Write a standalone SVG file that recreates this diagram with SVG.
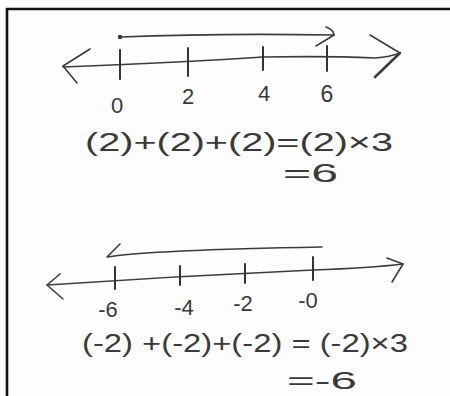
<svg xmlns="http://www.w3.org/2000/svg" width="450" height="396" viewBox="0 0 450 396">
<style>
.ink{fill:none;stroke:#3c3c3c;stroke-width:1.6;stroke-linecap:round;stroke-linejoin:round}
.tick{fill:none;stroke:#333;stroke-width:2;stroke-linecap:round}
.t{font-family:"Liberation Sans","DejaVu Sans",sans-serif;fill:#3a3a3a;font-weight:normal}
.lbl{font-size:22px;text-anchor:middle}
.eq{font-size:26px}
</style>
<rect x="0" y="0" width="450" height="396" fill="#fdfdfd"/>
<path d="M7,396 V9 H450" fill="none" stroke="#111" stroke-width="2.6"/>
<g id="top-number-line">
  <circle cx="120" cy="37" r="2.2" fill="#333"/>
  <path class="ink" d="M120,37 Q220,33 334,35"/>
  <path class="ink" d="M326,27 Q334,30 334,35 L316,46"/>
  <path class="ink" d="M63,67 Q190,62 263,57 Q330,56 375,58 Q390,57 400,53"/>
  <path class="ink" d="M90,49 L63,66 L77,83"/>
  <path class="ink" d="M370,35 L400,53"/>
  <path class="ink" d="M400,53 L375,77" style="stroke-width:2.6"/>
  <path class="tick" d="M120,50 V79 M188,48 V76 M263,47 V70 M327,46 V71"/>
  <text class="t lbl" x="117" y="113">0</text>
  <text class="t lbl" x="188" y="104">2</text>
  <text class="t lbl" x="264" y="101">4</text>
  <text class="t lbl" x="327" y="102" style="font-size:23px">6</text>
  <text class="t eq" x="85" y="151" textLength="308" lengthAdjust="spacingAndGlyphs">(2)+(2)+(2)=(2)×3</text>
  <text class="t eq" x="283" y="182" textLength="55" lengthAdjust="spacingAndGlyphs">=6</text>
</g>
<g id="bottom-number-line">
  <path class="ink" d="M120,244 L107,257 Q150,250 322,247"/>
  <path class="ink" d="M47,285 Q180,276 313,270 Q370,268 403,264"/>
  <path class="ink" d="M60,274 L47,285 L63,299"/>
  <path class="ink" d="M387,258 L403,264 L392,282"/>
  <path class="tick" d="M115,267 V289 M180,266 V285 M245,264 V283 M313,257 V280"/>
  <text class="t lbl" x="108" y="317">-6</text>
  <text class="t lbl" x="184" y="315">-4</text>
  <text class="t lbl" x="243" y="311">-2</text>
  <text class="t lbl" x="308" y="308">-0</text>
  <text class="t eq" x="82" y="352" textLength="326" lengthAdjust="spacingAndGlyphs">(-2) +(-2)+(-2) = (-2)×3</text>
  <text class="t eq" x="287" y="389" textLength="70" lengthAdjust="spacingAndGlyphs" style="font-size:24px">=-6</text>
</g>
</svg>
